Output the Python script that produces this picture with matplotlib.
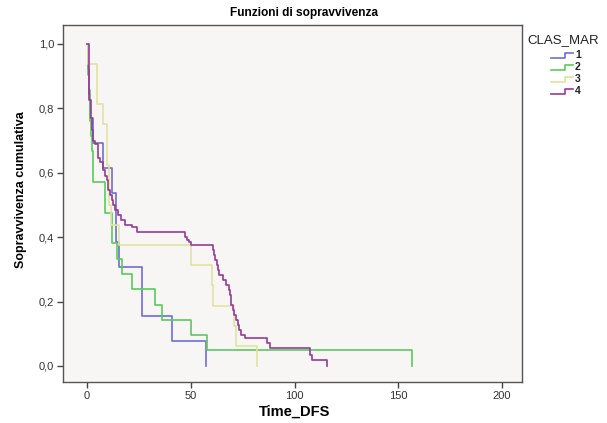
import matplotlib
matplotlib.use("Agg")
import matplotlib.pyplot as plt
from matplotlib.lines import Line2D
from matplotlib.ticker import FuncFormatter

plt.rcParams['font.family'] = ['Liberation Sans', 'DejaVu Sans']

# ---- data (Kaplan-Meier step curves) ----
groups = ["1", "2", "3", "4"]

t1 = [0, 0.5, 1.0, 1.5, 2.9, 7.7, 12.0, 13.8, 15.2, 26.3, 40.8, 57.4]
s1 = [1.0, 0.923, 0.846, 0.769, 0.692, 0.615, 0.538, 0.385, 0.308, 0.154, 0.077, 0.0]

t2 = [0, 0.6, 1.0, 1.3, 1.6, 2.0, 2.4, 2.8, 3.0, 8.7, 11.9, 14.5, 17.0, 21.5, 32.8, 36.0, 50.0, 57.7, 156.5]
s2 = [1.0, 0.905, 0.857, 0.810, 0.762, 0.714, 0.667, 0.619, 0.571, 0.476, 0.381, 0.333, 0.286, 0.238,
      0.190, 0.143, 0.095, 0.048, 0.0]

t3 = [0, 0.5, 4.7, 7.7, 9.6, 10.5, 11.3, 15.6, 50.0, 60.1, 60.7, 70.8, 71.8, 81.8]
s3 = [1.0, 0.9375, 0.8125, 0.75, 0.625, 0.5, 0.4375, 0.375, 0.3125, 0.25, 0.1875, 0.125, 0.0625, 0.0]

t4 = [0, 1.0, 2.0, 2.6, 3.0, 4.0, 5.4, 6.3, 7.5, 8.5, 9.5, 10.3, 11.1, 12.0, 12.7, 13.5, 15.0, 16.5,
      18.5, 21.5, 23.9, 47.2, 48.3, 49.0, 50.1, 60.6, 61.2, 61.7, 62.5, 63.3, 63.8, 65.7, 67.0, 68.3,
      68.8, 69.2, 69.5, 70.2, 71.0, 71.8, 72.6, 73.4, 74.3, 76.1, 86.9, 88.2, 107.5, 108.3, 115.5]
s4 = [1.0, 0.826, 0.770, 0.733, 0.700, 0.690, 0.646, 0.634, 0.610, 0.590, 0.578, 0.547, 0.531, 0.516,
      0.500, 0.484, 0.469, 0.453, 0.438, 0.430, 0.415, 0.400, 0.391, 0.384, 0.376, 0.360, 0.345, 0.329,
      0.314, 0.298, 0.283, 0.267, 0.252, 0.236, 0.221, 0.205, 0.190, 0.174, 0.159, 0.143, 0.128, 0.112,
      0.097, 0.086, 0.070, 0.057, 0.034, 0.0186, 0.0]

series_t = [t1, t2, t3, t4]
series_s = [s1, s2, s3, s4]
colors = ["#6e6ed4", "#5cca5c", "#dfe3a2", "#963a96"]

x_ticks = [0, 50, 100, 150, 200]
y_ticks = [0.0, 0.2, 0.4, 0.6, 0.8, 1.0]

W, H = 607, 423


def fx(px):
    return px / W


def fy(py):
    return 1 - py / H


# ---- figure ----
fig = plt.figure(figsize=(6.07, 4.23), dpi=100)
fig.patch.set_facecolor("white")
ax = fig.add_axes([fx(63), fy(382), (522 - 63) / W, (382 - 25) / H])
ax.set_facecolor("#f7f6f4")

for t, s, c in zip(series_t, series_s, colors):
    ax.step(t, s, where="post", color=c, lw=1.2)

ax.set_xlim(-11.6, 209.6)
ax.set_ylim(-0.05, 1.059)
ax.set_xticks(x_ticks)
ax.set_yticks(y_ticks)
ax.yaxis.set_major_formatter(FuncFormatter(lambda v, p: f"{v:.1f}".replace(".", ",")))
ax.tick_params(axis="both", direction="out", length=4.5, width=1, color="#444444",
               labelsize=8, labelcolor="#333333", pad=2)
for sp in ax.spines.values():
    sp.set_color("#555555")
    sp.set_linewidth(1.0)

ax.set_xlabel("Time_DFS", fontsize=10.5, fontweight="bold")
ax.xaxis.set_label_coords((295 - 63) / 459, (382 - 405) / 357)
ax.set_ylabel("Sopravvivenza cumulativa", fontsize=9, fontweight="bold")
ax.yaxis.set_label_coords((27 - 63) / 459, (382 - 190) / 357)
fig.text(fx(304.5), fy(13), "Funzioni di sopravvivenza", ha="center", va="center",
         fontsize=8.6, fontweight="bold")

# ---- legend (drawn by hand to mimic the SPSS layout) ----
fig.text(fx(527), fy(40), "CLAS_MAR", ha="left", va="center", fontsize=9.5, color="#222222")
entry_y = [55, 67, 79, 91]
for lab, c, yy in zip(groups, colors, entry_y):
    xs = [fx(551), fx(565), fx(565), fx(573)]
    ys = [fy(yy + 3), fy(yy + 3), fy(yy - 2), fy(yy - 2)]
    fig.add_artist(Line2D(xs, ys, color=c, lw=1.2, transform=fig.transFigure))
    fig.text(fx(575), fy(yy), lab, ha="left", va="center", fontsize=7.5, fontweight="bold",
             color="#222222")

fig.savefig("out.png", dpi=100, facecolor="white")
